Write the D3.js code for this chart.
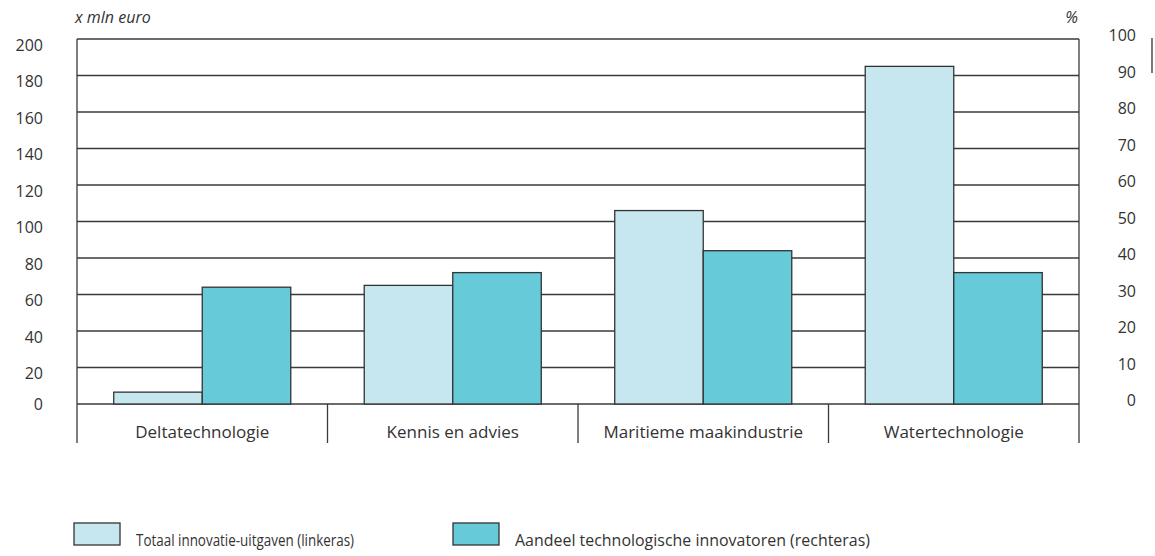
<!DOCTYPE html>
<html>
<head>
<meta charset="utf-8">
<script src="https://cdn.jsdelivr.net/npm/d3@7"></script>
<style>
  body { margin: 0; background: #fff; }
  svg text { font-family: "Open Sans", "Noto Sans", sans-serif; fill: #333; }
</style>
</head>
<body>
<svg id="chart" width="1155" height="556"></svg>
<script>
// data
var categories = ["Deltatechnologie", "Kennis en advies", "Maritieme maakindustrie", "Watertechnologie"];
var uitgaven = [6.5, 65, 106, 185];      // x mln euro (linkeras)
var aandeel = [32, 36, 42, 36];           // % (rechteras)
var leftTicks = [0, 20, 40, 60, 80, 100, 120, 140, 160, 180, 200];
var rightTicks = [0, 10, 20, 30, 40, 50, 60, 70, 80, 90, 100];
var seriesNames = ["Totaal innovatie-uitgaven (linkeras)", "Aandeel technologische innovatoren (rechteras)"];
var seriesColors = ["#c6e7f0", "#66cad9"];

var svg = d3.select("#chart");
var plotLeft = 77, plotRight = 1079, plotTop = 39, plotBottom = 404, sepBottom = 443;

var x = d3.scaleBand().domain(categories).range([plotLeft, plotRight]);
var yL = d3.scaleLinear().domain([0, 200]).range([plotBottom, plotTop]);
var yR = d3.scaleLinear().domain([0, 100]).range([plotBottom, plotTop]);
var inner = d3.scaleBand().domain([0, 1]).range([0, x.bandwidth()]).paddingOuter(0.415).paddingInner(0);

// gridlines
svg.append("g").selectAll("line").data(leftTicks).join("line")
    .attr("x1", plotLeft).attr("x2", plotRight)
    .attr("y1", function(d){ return yL(d); }).attr("y2", function(d){ return yL(d); })
    .style("stroke", "#3a3a3a").style("stroke-width", 1.3);

// frame sides
[plotLeft, plotRight].forEach(function(xx){
    svg.append("line").attr("x1", xx).attr("x2", xx).attr("y1", plotTop).attr("y2", sepBottom)
        .style("stroke", "#3a3a3a").style("stroke-width", 1.3);
});

// category separators
svg.append("g").selectAll("line").data(categories.slice(1)).join("line")
    .attr("x1", function(d){ return x(d); }).attr("x2", function(d){ return x(d); })
    .attr("y1", plotBottom).attr("y2", sepBottom)
    .style("stroke", "#3a3a3a").style("stroke-width", 1.3);

// bars
var bars = svg.append("g");
bars.selectAll("rect.l").data(categories).join("rect").attr("class", "l")
    .attr("x", function(d){ return x(d) + inner(0); })
    .attr("width", inner.bandwidth())
    .attr("y", function(d, i){ return yL(uitgaven[i]); })
    .attr("height", function(d, i){ return plotBottom - yL(uitgaven[i]); })
    .style("fill", seriesColors[0]).style("stroke", "#333").style("stroke-width", 1.3);
bars.selectAll("rect.r").data(categories).join("rect").attr("class", "r")
    .attr("x", function(d){ return x(d) + inner(1); })
    .attr("width", inner.bandwidth())
    .attr("y", function(d, i){ return yR(aandeel[i]); })
    .attr("height", function(d, i){ return plotBottom - yR(aandeel[i]); })
    .style("fill", seriesColors[1]).style("stroke", "#333").style("stroke-width", 1.3);

// left axis labels
svg.append("g").selectAll("text").data(leftTicks).join("text")
    .attr("x", 43).attr("y", function(d){ return yL(d) + (d === 0 ? 0 : 6); })
    .attr("dy", "0.35em").attr("text-anchor", "end")
    .style("font-size", "16px")
    .text(function(d){ return d; });

// right axis labels
svg.append("g").selectAll("text").data(rightTicks).join("text")
    .attr("x", 1136).attr("y", function(d){ return yR(d) - 3.5; })
    .attr("dy", "0.35em").attr("text-anchor", "end")
    .style("font-size", "16px")
    .text(function(d){ return d; });

// axis titles
svg.append("text").attr("x", 75).attr("y", 23).style("font-size", "16px").style("font-style", "italic").text("x mln euro");
svg.append("text").attr("x", 1078).attr("y", 23).attr("text-anchor", "end").style("font-size", "16px").style("font-style", "italic").text("%");

// little marker at right edge
svg.append("line").attr("x1", 1152).attr("x2", 1152).attr("y1", 38).attr("y2", 73)
    .style("stroke", "#333").style("stroke-width", 1.3);

// category labels
svg.append("g").selectAll("text").data(categories).join("text")
    .attr("x", function(d){ return x(d) + x.bandwidth() / 2; })
    .attr("y", 432).attr("dy", "0.35em").attr("text-anchor", "middle")
    .style("font-size", "17px")
    .text(function(d){ return d; });

// legend
var legendX = [74, 453];
var legendW = [218, 355];
var legend = svg.append("g").selectAll("g").data(seriesNames).join("g")
    .attr("transform", function(d, i){ return "translate(" + legendX[i] + ",523)"; });
legend.append("rect").attr("width", 46).attr("height", 22)
    .style("fill", function(d, i){ return seriesColors[i]; })
    .style("stroke", "#333").style("stroke-width", 1.3);
legend.append("text").attr("x", 62).attr("y", 23)
    .attr("textLength", function(d, i){ return legendW[i]; })
    .attr("lengthAdjust", "spacingAndGlyphs")
    .style("font-size", "15.5px")
    .text(function(d){ return d; });
</script>
</body>
</html>
